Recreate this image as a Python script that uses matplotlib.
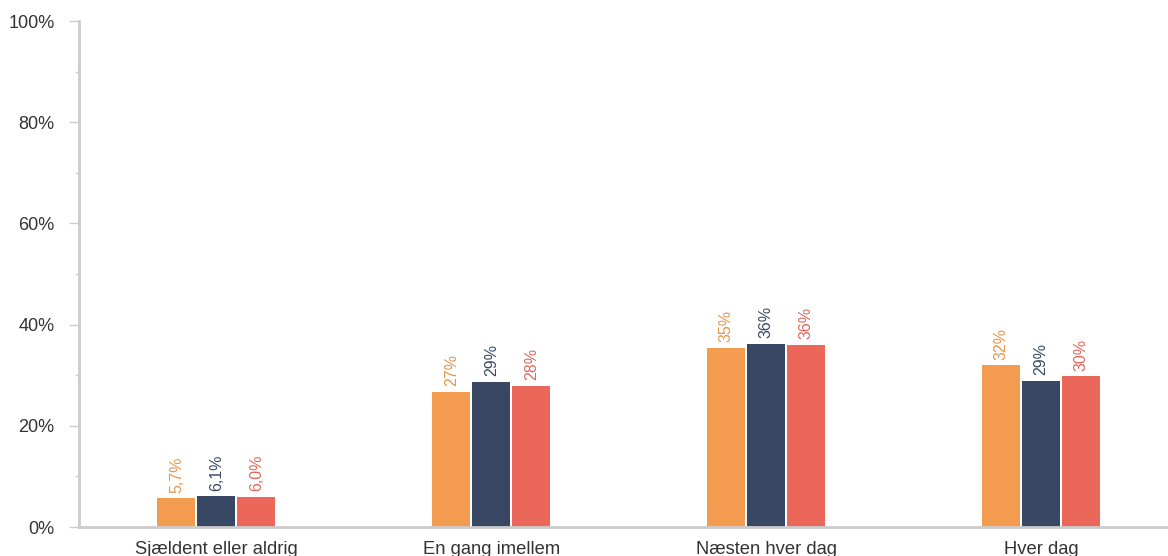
import matplotlib
matplotlib.use("Agg")
import matplotlib.pyplot as plt
import numpy as np

categories = ["Sjældent eller aldrig", "En gang imellem", "Næsten hver dag", "Hver dag"]
series_a = [5.7, 26.7, 35.4, 32.0]
series_b = [6.1, 28.7, 36.2, 28.9]
series_c = [6.0, 27.9, 36.0, 29.8]
labels_a = ["5,7%", "27%", "35%", "32%"]
labels_b = ["6,1%", "29%", "36%", "29%"]
labels_c = ["6,0%", "28%", "36%", "30%"]
colors = ["#F39C4F", "#374764", "#EA6759"]
label_colors = ["#E8954C", "#3A4866", "#E0675B"]

plt.rcParams['font.family'] = ['Liberation Sans', 'DejaVu Sans']

fig = plt.figure(figsize=(11.68, 5.56), dpi=100)
ax = fig.add_axes([79 / 1168, 29 / 556, 1099.5 / 1168, 506 / 556])

x = np.arange(len(categories))
w = 0.138
step = 0.1455
for i, (vals, labs) in enumerate([(series_a, labels_a), (series_b, labels_b), (series_c, labels_c)]):
    pos = x + (i - 1) * step
    bars = ax.bar(pos, vals, width=w, color=colors[i])
    for b, lab in zip(bars, labs):
        ax.annotate(lab, (b.get_x() + b.get_width() / 2, b.get_height()),
                    xytext=(0, 4), textcoords="offset points",
                    rotation=90, ha="center", va="bottom",
                    fontsize=11.5, color=label_colors[i])

ax.set_xlim(-0.5, 3.5)
ax.set_ylim(0, 100)
ax.set_yticks(range(0, 101, 20))
ax.set_yticklabels([f"{v}%" for v in range(0, 101, 20)])
ax.set_yticks(range(10, 100, 20), minor=True)
ax.set_xticks(x)
ax.set_xticklabels(categories)

for s in ["top", "right"]:
    ax.spines[s].set_visible(False)
for s in ["left", "bottom"]:
    ax.spines[s].set_color("#cccccc")
    ax.spines[s].set_linewidth(2)

ax.tick_params(axis="y", which="major", length=7.5, width=1, color="#cccccc",
               labelsize=13, labelcolor="#333333", pad=10)
ax.tick_params(axis="y", which="minor", length=3, width=1, color="#cccccc")
ax.tick_params(axis="x", length=0, labelsize=13.2, labelcolor="#333333", pad=10)

fig.savefig("out.png", dpi=100)
